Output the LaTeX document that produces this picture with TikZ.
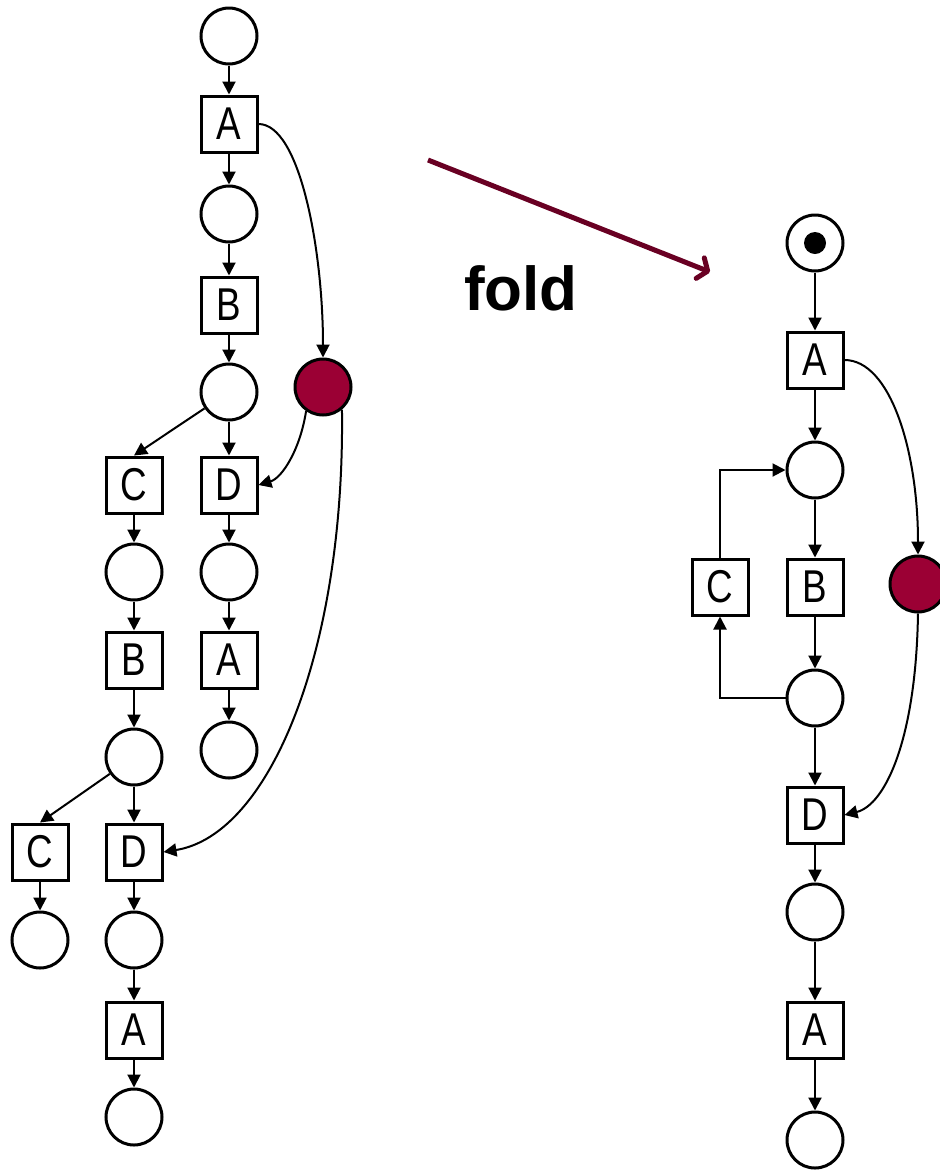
\documentclass[tikz,border=0pt]{standalone}
\usepackage{fontspec}
\setmainfont{Liberation Sans}
\newfontfamily\narrowfont{Liberation Sans}[FakeStretch=0.8]
\usetikzlibrary{arrows.meta}
\definecolor{wine}{RGB}{155,0,52}
\definecolor{foldred}{RGB}{105,0,35}
\tikzset{arc/.style={-{Triangle[length=13pt,width=13pt]},line width=2pt}}

\begin{document}
\begin{tikzpicture}[x=1pt,y=-1pt,
 place/.style={circle,draw,line width=3pt,minimum size=56pt,inner sep=0pt},
 marked/.style={place,fill=wine},
 trans/.style={draw,line width=3pt,minimum size=56pt,inner sep=0pt,font=\narrowfont\fontsize{46}{46}\selectfont}]
\useasboundingbox (0,0) rectangle (940,1171);
% unfolding
\node[place] (p0) at (229,36) {};
\node[trans] (a1) at (229,124) {A};
\node[place] (p1) at (229,214) {};
\node[trans] (b1) at (229,305) {B};
\node[place] (p2) at (229,392) {};
\node[marked] (r1) at (323,387) {};
\node[trans] (c1) at (134,485) {C};
\node[trans] (d1) at (229,485) {D};
\node[place] (p3) at (134,572) {};
\node[place] (p4) at (229,572) {};
\node[trans] (b2) at (134,660) {B};
\node[trans] (a2) at (229,660) {A};
\node[place] (p5) at (134,757) {};
\node[place] (p6) at (229,750) {};
\node[trans] (c2) at (40,852) {C};
\node[trans] (d2) at (134,852) {D};
\node[place] (p7) at (40,940) {};
\node[place] (p8) at (134,940) {};
\node[trans] (a3) at (134,1030) {A};
\node[place] (p9) at (134,1117) {};
\draw[arc] (p0)--(a1); \draw[arc] (a1)--(p1); \draw[arc] (p1)--(b1); \draw[arc] (b1)--(p2);
\draw[arc] (p2)--(d1); \draw[arc] (p2)--(c1.north);
\draw[arc] (c1)--(p3); \draw[arc] (p3)--(b2); \draw[arc] (b2)--(p5);
\draw[arc] (d1)--(p4); \draw[arc] (p4)--(a2); \draw[arc] (a2)--(p6);
\draw[arc] (p5)--(d2); \draw[arc] (p5)--(c2.north);
\draw[arc] (c2)--(p7); \draw[arc] (d2)--(p8); \draw[arc] (p8)--(a3); \draw[arc] (a3)--(p9);
\draw[arc] (a1.east) .. controls (300,124) and (323,250) .. (r1.north);
\draw[arc] (r1.235) .. controls (300,450) and (282,478) .. (d1.east);
\draw[arc] (r1.310) .. controls (345,650) and (270,835) .. (d2.east);
% fold arrow
\coordinate (fs) at (428,160);
\coordinate (fe) at (710,272);
\draw[foldred,line width=5pt,-{Straight Barb[length=8pt,width=22pt,round]}] (fs)--(fe);
\node[font=\bfseries\fontsize{62}{62}\selectfont] (fold) at (521,288) {fold};
% folded net
\node[place] (q0) at (815,243) {};
\fill (q0) circle (11pt);
\node[trans] (fa) at (815,360) {A};
\node[place] (q1) at (815,470) {};
\node[trans] (fb) at (815,587) {B};
\node[trans] (fc) at (720,587) {C};
\node[marked] (r2) at (918,584) {};
\node[place] (q2) at (815,698) {};
\node[trans] (fd) at (815,815) {D};
\node[place] (q3) at (815,912) {};
\node[trans] (fa2) at (815,1030) {A};
\node[place] (q4) at (815,1140) {};
\draw[arc] (q0)--(fa); \draw[arc] (fa)--(q1); \draw[arc] (q1)--(fb); \draw[arc] (fb)--(q2);
\draw[arc] (q2)--(fd); \draw[arc] (fd)--(q3); \draw[arc] (q3)--(fa2); \draw[arc] (fa2)--(q4);
\draw[arc] (q2.west) -| (fc.south);
\draw[arc] (fc.north) |- (q1.west);
\draw[arc] (fa.east) .. controls (890,360) and (918,450) .. (r2.north);
\draw[arc] (r2.south) .. controls (916,740) and (885,805) .. (fd.east);
\end{tikzpicture}
\end{document}
